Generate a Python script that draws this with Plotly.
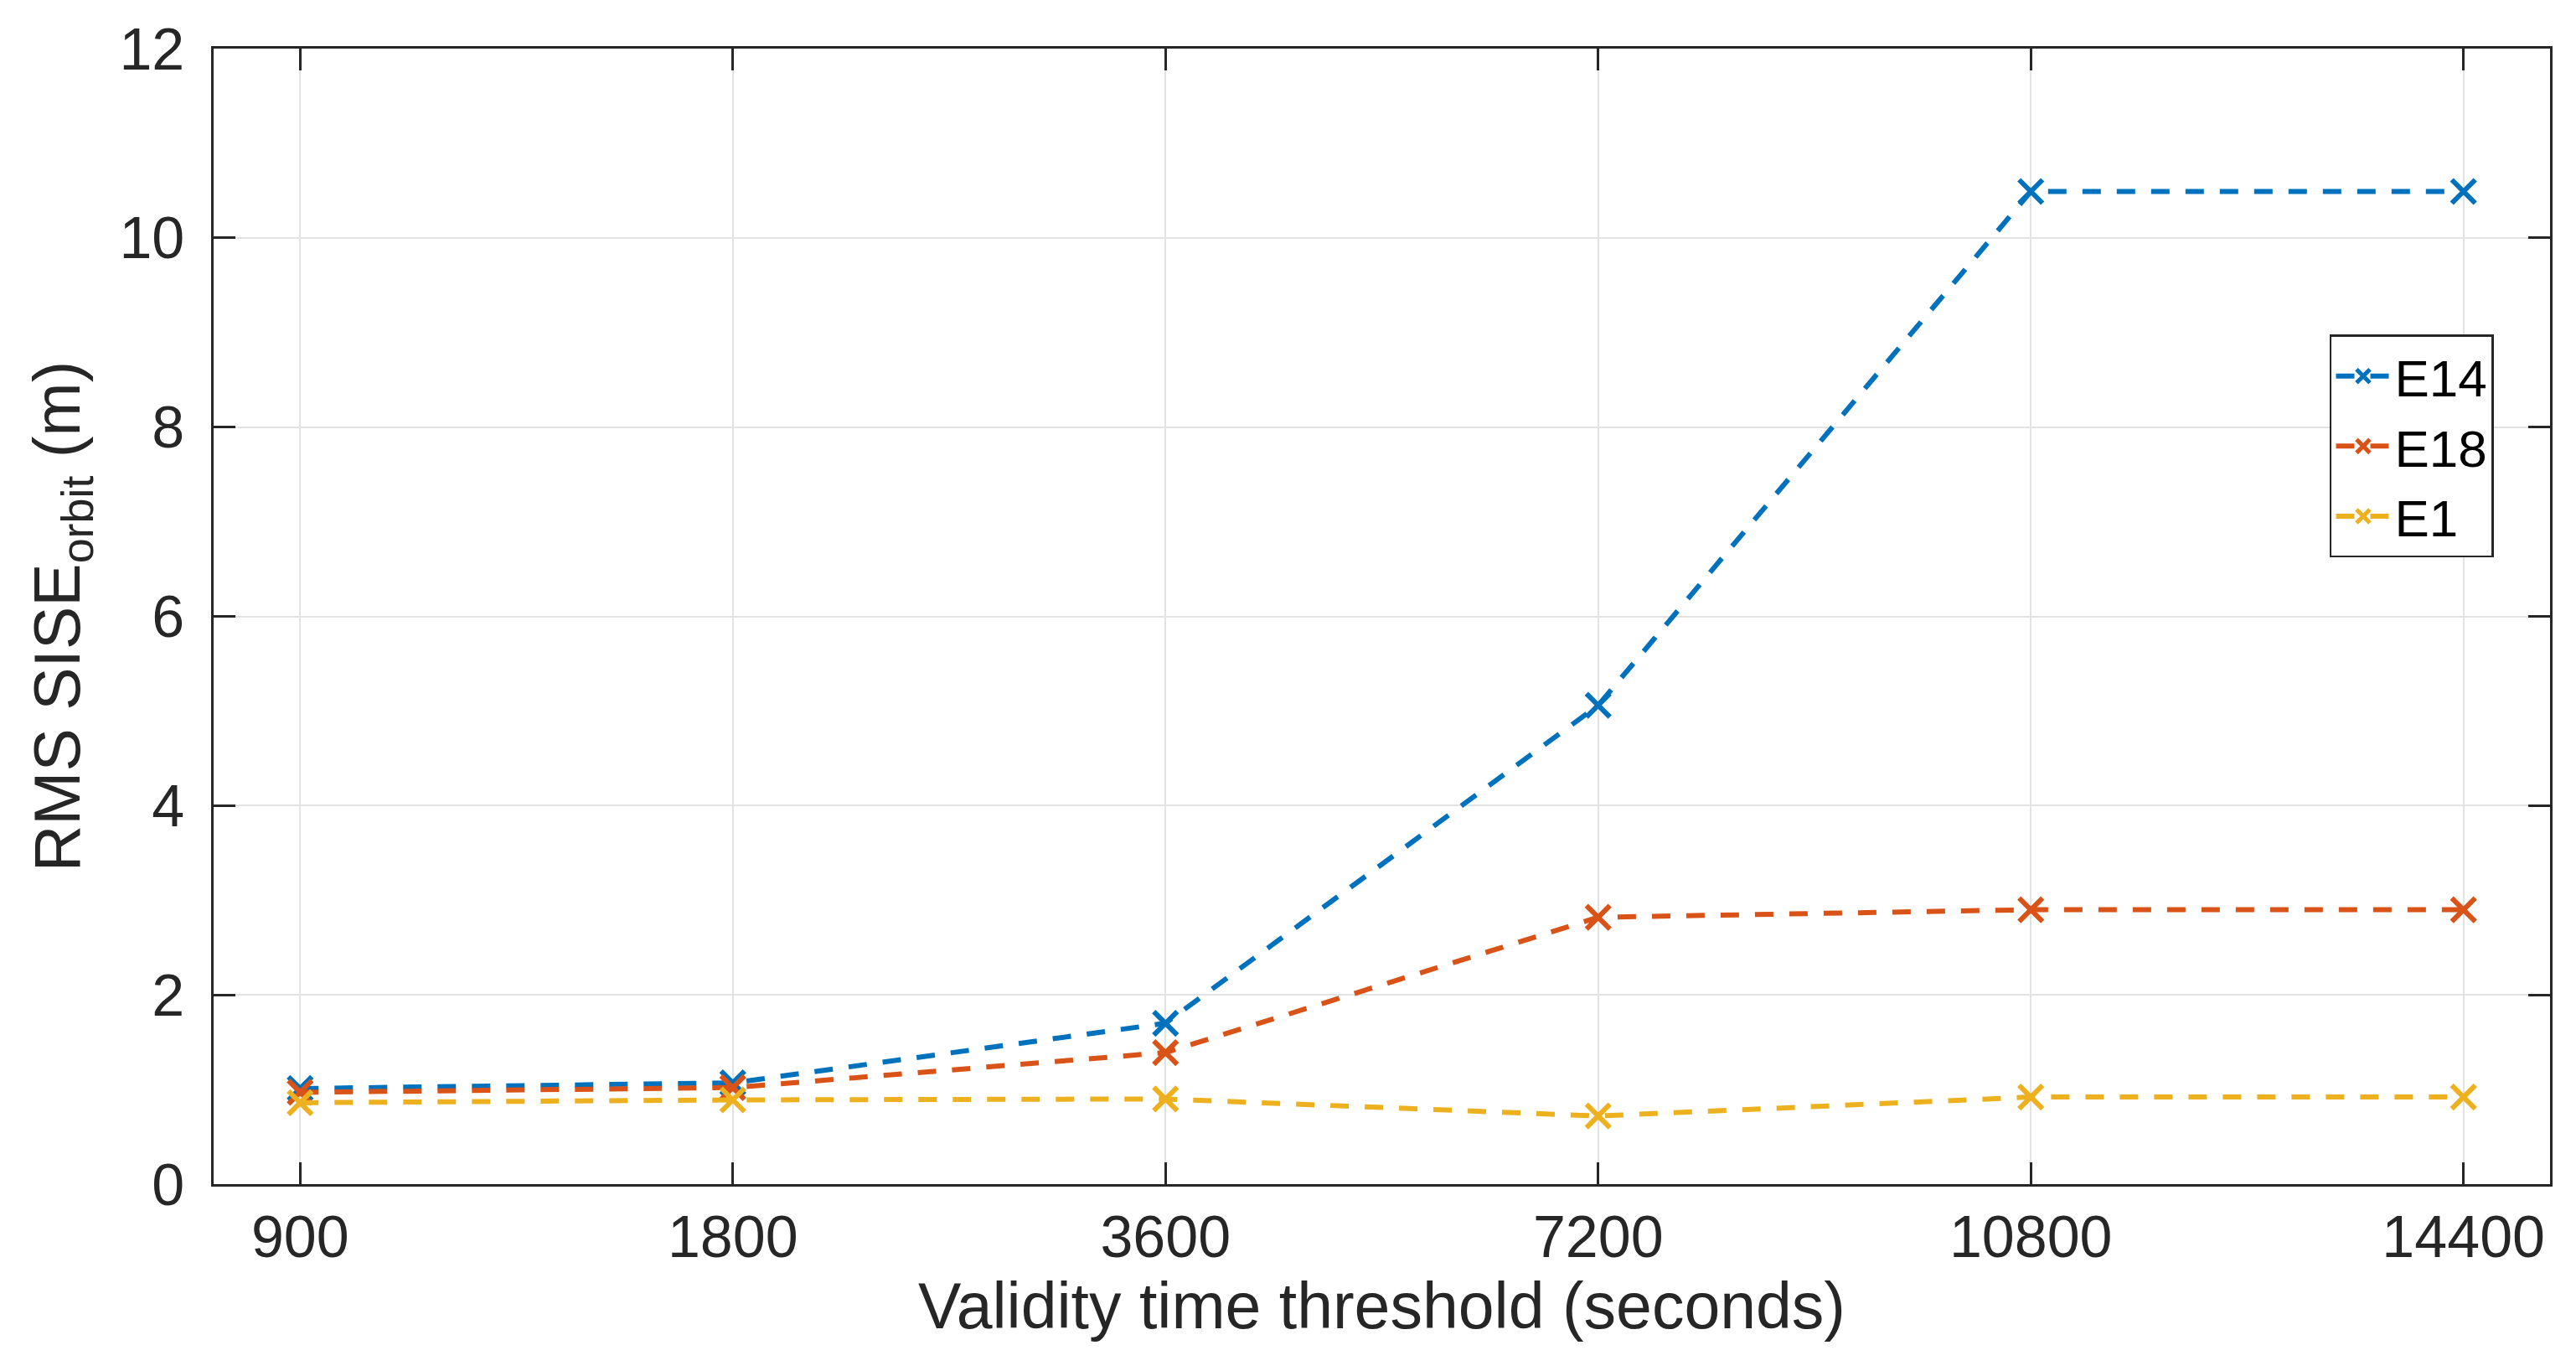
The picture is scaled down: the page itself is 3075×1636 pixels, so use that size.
import plotly.graph_objects as go

categories = ["900", "1800", "3600", "7200", "10800", "14400"]
e14 = [1.01, 1.07, 1.70, 5.06, 10.49, 10.49]
e18 = [0.97, 1.02, 1.39, 2.82, 2.90, 2.90]
e1 = [0.86, 0.89, 0.90, 0.72, 0.92, 0.92]
series_names = ["E14", "E18", "E1"]
colors = ["#0072BD", "#D95319", "#EDB120"]

W, H = 3075, 1636
FONT = "Liberation Sans, Arial, sans-serif"
AX = "#262626"

fig = go.Figure()
for name, vals, col in zip(series_names, [e14, e18, e1], colors):
    fig.add_trace(go.Scatter(
        x=categories, y=vals, name=name, mode="lines+markers",
        line=dict(color=col, width=6, dash="22px,19px"),
        marker=dict(symbol="x-thin", size=28, color=col,
                    line=dict(color=col, width=6)),
    ))

axis_common = dict(
    showline=True, linecolor=AX, linewidth=2.5, mirror="ticks",
    ticks="inside", ticklen=26, tickwidth=2.5, tickcolor=AX,
    showgrid=True, gridcolor="#e3e3e3", gridwidth=2,
    zeroline=False,
    tickfont=dict(family=FONT, size=70, color=AX),
)

fig.update_xaxes(
    type="category", range=[-0.2, 5.2],
    title=dict(text="Validity time threshold (seconds)",
               font=dict(family=FONT, size=77, color=AX), standoff=12),
    ticklabelstandoff=0,
    **axis_common,
)
fig.update_yaxes(
    range=[0, 12], dtick=2, tick0=0,
    title=dict(text="RMS SISE<sub>orbit</sub> (m)",
               font=dict(family=FONT, size=77, color=AX), standoff=22),
    ticklabelstandoff=18,
    **axis_common,
)

fig.update_layout(
    width=W, height=H,
    margin=dict(l=255, r=31, t=58, b=223),
    paper_bgcolor="white", plot_bgcolor="white",
    showlegend=True,
    legend=dict(
        x=0.9057, y=0.748, xanchor="left", yanchor="top",
        bgcolor="white", bordercolor=AX, borderwidth=2.5,
        font=dict(family=FONT, size=62, color="black"),
        itemwidth=65, tracegroupgap=0,
    ),
)

fig.write_html("out.html", config={"displayModeBar": False},
               post_script="document.body.style.margin='0';")
